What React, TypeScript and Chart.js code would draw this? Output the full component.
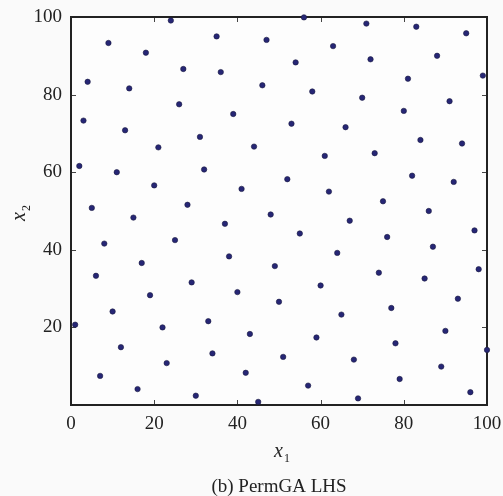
import React, { useEffect, useRef } from "react";
import { Chart, registerables } from "chart.js";

Chart.register(...registerables);

// Sample coordinates
const X1: number[] = [
  1, 2, 3, 4, 5, 6, 7, 8, 9, 10,
  11, 12, 13, 14, 15, 16, 17, 18, 19, 20,
  21, 22, 23, 24, 25, 26, 27, 28, 29, 30,
  31, 32, 33, 34, 35, 36, 37, 38, 39, 40,
  41, 42, 43, 44, 45, 46, 47, 48, 49, 50,
  51, 52, 53, 54, 55, 56, 57, 58, 59, 60,
  61, 62, 63, 64, 65, 66, 67, 68, 69, 70,
  71, 72, 73, 74, 75, 76, 77, 78, 79, 80,
  81, 82, 83, 84, 85, 86, 87, 88, 89, 90,
  91, 92, 93, 94, 95, 96, 97, 98, 99, 100,
];
const X2: number[] = [
  20.7, 61.6, 73.3, 83.3, 50.8, 33.3, 7.5, 41.6, 93.3, 24.1,
  60.0, 14.9, 70.8, 81.6, 48.3, 4.1, 36.6, 90.8, 28.3, 56.6,
  66.4, 20.0, 10.8, 99.1, 42.5, 77.5, 86.6, 51.6, 31.6, 2.4,
  69.1, 60.7, 21.6, 13.3, 95.0, 85.8, 46.7, 38.3, 75.0, 29.1,
  55.7, 8.3, 18.3, 66.6, 0.8, 82.4, 94.1, 49.1, 35.8, 26.6,
  12.4, 58.2, 72.5, 88.3, 44.2, 99.9, 5.0, 80.8, 17.4, 30.8,
  64.2, 55.0, 92.5, 39.2, 23.3, 71.6, 47.5, 11.7, 1.7, 79.2,
  98.3, 89.1, 64.9, 34.1, 52.5, 43.3, 25.0, 15.9, 6.7, 75.8,
  84.1, 59.1, 97.5, 68.3, 32.6, 50.0, 40.8, 90.0, 9.9, 19.1,
  78.3, 57.5, 27.4, 67.4, 95.8, 3.3, 45.0, 35.0, 84.9, 14.2,
];

const AXIS_MIN = 0;
const AXIS_MAX = 100;
const TICK_STEP = 20;
const HIDDEN_Y_TICKS = [0];

const X_TITLE = "x";
const X_TITLE_SUB = "1";
const Y_TITLE = "x";
const Y_TITLE_SUB = "2";
const CAPTION = "(b) PermGA LHS";

const FONT = "'Liberation Serif', 'Times New Roman', serif";

function drawSubTitle(ctx: CanvasRenderingContext2D, main: string, sub: string, cx: number, cy: number) {
  ctx.font = `italic 20px ${FONT}`;
  const w1 = ctx.measureText(main).width;
  ctx.font = `12px ${FONT}`;
  const w2 = ctx.measureText(sub).width;
  const total = w1 + w2 + 1;
  const x0 = cx - total / 2;
  ctx.textBaseline = "alphabetic";
  ctx.textAlign = "left";
  ctx.font = `italic 20px ${FONT}`;
  ctx.fillText(main, x0, cy + 6);
  ctx.font = `12px ${FONT}`;
  ctx.fillText(sub, x0 + w1 + 1, cy + 11);
}

const framePlugin = {
  id: "frameAndTitles",
  beforeDraw(chart: any) {
    const { ctx, width, height } = chart;
    ctx.save();
    ctx.fillStyle = "#fafafa";
    ctx.fillRect(0, 0, width, height);
    ctx.restore();
  },
  beforeDatasetsDraw(chart: any) {
    const { ctx, chartArea, scales } = chart;
    const { left, right, top, bottom } = chartArea;
    ctx.save();
    ctx.fillStyle = "#fdfdfd";
    ctx.fillRect(left, top, right - left, bottom - top);
    ctx.strokeStyle = "#444";
    ctx.lineWidth = 1;
    ctx.beginPath();
    scales.x.ticks.forEach((t: any) => {
      const px = Math.round(scales.x.getPixelForValue(t.value)) + 0.5;
      ctx.moveTo(px, bottom);
      ctx.lineTo(px, bottom - 5);
      ctx.moveTo(px, top);
      ctx.lineTo(px, top + 5);
    });
    scales.y.ticks.forEach((t: any) => {
      const py = Math.round(scales.y.getPixelForValue(t.value)) + 0.5;
      ctx.moveTo(left, py);
      ctx.lineTo(left + 5, py);
      ctx.moveTo(right, py);
      ctx.lineTo(right - 5, py);
    });
    ctx.stroke();
    ctx.strokeStyle = "#222";
    ctx.lineWidth = 2;
    ctx.strokeRect(left, top, right - left, bottom - top);
    ctx.restore();
  },
  afterDraw(chart: any) {
    const { ctx, chartArea } = chart;
    const { left, right, top, bottom } = chartArea;
    const cx = (left + right) / 2;
    const cy = (top + bottom) / 2;
    ctx.save();
    ctx.fillStyle = "#222";
    drawSubTitle(ctx, X_TITLE, X_TITLE_SUB, cx + 3, bottom + 46);
    ctx.font = `19px ${FONT}`;
    ctx.textAlign = "center";
    ctx.textBaseline = "middle";
    ctx.fillText(CAPTION, cx, bottom + 82);
    ctx.translate(21, cy + 2);
    ctx.rotate(-Math.PI / 2);
    drawSubTitle(ctx, Y_TITLE, Y_TITLE_SUB, 0, -2);
    ctx.restore();
  },
};

export default function App() {
  const ref = useRef<HTMLCanvasElement | null>(null);

  useEffect(() => {
    if (!ref.current) return;
    const points = X1.map((x, i) => ({ x, y: X2[i] }));
    const chart = new Chart(ref.current, {
      type: "scatter",
      data: {
        datasets: [
          {
            data: points,
            pointRadius: 2.7,
            pointHoverRadius: 2.7,
            pointBackgroundColor: "#262675",
            pointBorderColor: "#1a1a40",
            pointBorderWidth: 0.6,
            showLine: false,
            clip: false,
          } as any,
        ],
      },
      options: {
        animation: false,
        responsive: true,
        maintainAspectRatio: false,
        layout: { padding: { left: 31, right: 16, top: 17, bottom: 0 } },
        plugins: { legend: { display: false }, tooltip: { enabled: false } },
        scales: {
          x: {
            type: "linear",
            min: AXIS_MIN,
            max: AXIS_MAX,
            grid: { display: false, drawTicks: false },
            border: { display: false },
            ticks: {
              stepSize: TICK_STEP,
              padding: 8,
              color: "#222",
              font: { family: FONT, size: 19 },
            },
            afterFit: (scale: any) => {
              scale.height = 91;
              scale.paddingRight = 0;
              scale.paddingLeft = 0;
            },
          },
          y: {
            type: "linear",
            min: AXIS_MIN,
            max: AXIS_MAX,
            grid: { display: false, drawTicks: false },
            border: { display: false },
            ticks: {
              stepSize: TICK_STEP,
              padding: 9,
              color: "#222",
              font: { family: FONT, size: 19 },
              callback: (v: any) => (HIDDEN_Y_TICKS.includes(Number(v)) ? "" : String(v)),
            },
            afterFit: (scale: any) => {
              scale.width = 40;
              scale.paddingTop = 0;
              scale.paddingBottom = 0;
            },
          },
        },
      },
      plugins: [framePlugin],
    });
    return () => chart.destroy();
  }, []);

  return (
    <div style={{ position: "absolute", left: 0, top: 0, width: 503, height: 496, background: "#fafafa" }}>
      <canvas ref={ref} />
    </div>
  );
}
